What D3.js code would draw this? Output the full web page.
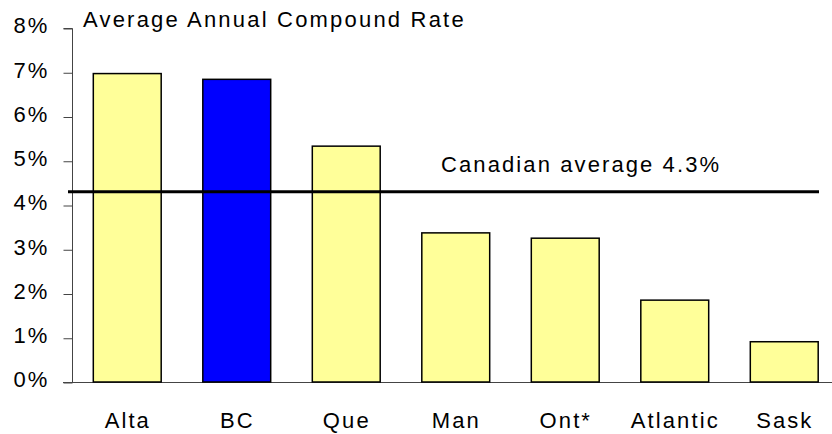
<!DOCTYPE html>
<html>
<head>
<meta charset="utf-8">
<script src="https://cdn.jsdelivr.net/npm/d3@7"></script>
<style>
  body { margin: 0; background: #fff; }
  text { font-family: Arial, "Liberation Sans", sans-serif; fill: #000; }
</style>
</head>
<body>
<svg id="chart" width="832" height="434"></svg>
<script>
// data
var regions = ["Alta", "BC", "Que", "Man", "Ont*", "Atlantic", "Sask"];
var rates = [6.97, 6.84, 5.33, 3.37, 3.25, 1.85, 0.91];
var highlight = ["BC"];
var yTicks = [0, 1, 2, 3, 4, 5, 6, 7, 8];
var canadianAvg = 4.3;
var titleText = "Average Annual Compound Rate";
var avgText = "Canadian average 4.3%";

// layout
var svg = d3.select("#chart");
var axisX = 72, yTop = 28, yBottom = 382;
var fontSize = 22, spacing = 2.1;

var x = d3.scaleBand()
  .domain(regions)
  .range([axisX, 838.5])
  .paddingInner(0.38)
  .paddingOuter(0.19);

var y = d3.scaleLinear()
  .domain([0, 8])
  .range([yBottom, yTop]);

// baseline (x axis)
svg.append("line")
  .attr("x1", axisX - 9).attr("x2", 832)
  .attr("y1", yBottom + 0.5).attr("y2", yBottom + 0.5)
  .attr("stroke", "#444").attr("stroke-width", 1);

// y axis
var yAxis = d3.axisLeft(y)
  .tickValues(yTicks)
  .tickSize(9)
  .tickPadding(14)
  .tickFormat(function (d) { return d + "%"; });

var gy = svg.append("g")
  .attr("transform", "translate(" + (axisX + 0.5) + ",0.5)")
  .call(yAxis);
gy.select(".domain").attr("stroke", "#444").attr("d", "M-9," + yTop + "H0V" + yBottom);
gy.selectAll(".tick line").attr("stroke", "#444");
gy.selectAll(".tick text")
  .attr("font-size", fontSize)
  .attr("font-family", "Arial, 'Liberation Sans', sans-serif")
  .style("letter-spacing", spacing + "px")
  .attr("dy", "0.2em");

// bars
svg.selectAll(".bar").data(regions).enter().append("rect")
  .attr("class", "bar")
  .attr("x", function (d) { return x(d) + 0.5; })
  .attr("y", function (d, i) { return y(rates[i]); })
  .attr("width", x.bandwidth())
  .attr("height", function (d, i) { return y(0) - y(rates[i]); })
  .attr("fill", function (d) { return highlight.indexOf(d) >= 0 ? "#0000ff" : "#ffff99"; })
  .attr("stroke", "#000")
  .attr("stroke-width", 1.5);

// x labels
svg.selectAll(".xlab").data(regions).enter().append("text")
  .attr("class", "xlab")
  .attr("x", function (d) { return x(d) + x.bandwidth() / 2 + spacing / 2; })
  .attr("y", 428)
  .attr("text-anchor", "middle")
  .attr("font-size", fontSize)
  .style("letter-spacing", spacing + "px")
  .text(function (d) { return d; });

// Canadian average line
svg.append("line")
  .attr("x1", 68).attr("x2", 819)
  .attr("y1", y(canadianAvg)).attr("y2", y(canadianAvg))
  .attr("stroke", "#000").attr("stroke-width", 3);

svg.append("text")
  .attr("x", 441).attr("y", 172)
  .attr("font-size", fontSize)
  .style("letter-spacing", spacing + "px")
  .text(avgText);

// title
svg.append("text")
  .attr("x", 83).attr("y", 27)
  .attr("font-size", fontSize)
  .style("letter-spacing", (spacing + 0.1) + "px")
  .text(titleText);
</script>
</body>
</html>
